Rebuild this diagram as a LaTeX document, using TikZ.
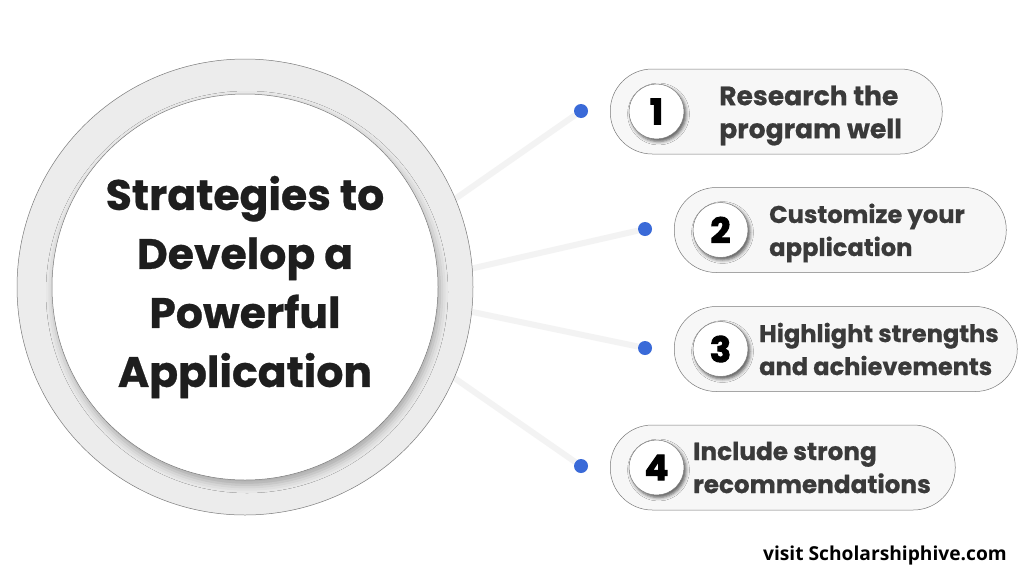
\documentclass[tikz,border=0pt]{standalone}
\usepackage{fontspec}
\setmainfont{Poppins}[BoldFeatures={FakeBold=0.6}]
\newfontfamily\numFont{Poppins}[BoldFeatures={FakeBold=3}]
\newfontfamily\siteFont{Open Sans}
\usetikzlibrary{shadows.blur}
\definecolor{cBlue}{HTML}{3A6AD8}
\definecolor{cRing}{HTML}{ECECEC}
\definecolor{cPill}{HTML}{F7F7F7}
\definecolor{cEdge}{HTML}{7A7A7A}
\definecolor{cLine}{HTML}{F3F3F3}
\definecolor{cText}{HTML}{3A3A3A}
\definecolor{cTitle}{HTML}{1E1E1E}

\begin{document}
\begin{tikzpicture}[x=1pt,y=-1pt,
  pill/.style={draw=cEdge,line width=0.5pt,fill=cPill,rounded corners=42pt,minimum height=85pt,inner sep=0pt,anchor=west},
  num/.style={circle,draw=cEdge,line width=0.5pt,fill=white,minimum size=55pt,inner sep=0pt,
    font=\numFont\bfseries\fontsize{35}{35}\selectfont,
    blur shadow={shadow xshift=2pt,shadow yshift=-2.5pt,shadow blur radius=3.5pt,shadow opacity=65}},
  dot/.style={circle,fill=cBlue,minimum size=14pt,inner sep=0pt},
  lbl/.style={anchor=west,align=left,text=cText,inner sep=0pt},
  link/.style={cLine,line width=6pt}]
  \useasboundingbox[fill=white] (0,0) rectangle (1024,576);
  % dots and their links into the ring
  \foreach \i/\dx/\dy/\ex/\ey in {1/581/111/432/215,2/645/229/439/276,3/645/348/439/305,4/581/466/427/359}{
    \node[dot] (d\i) at (\dx,\dy) {};
    \coordinate (e\i) at (\ex,\ey);
    \draw[link] (e\i) -- (d\i);}
  % central ring
  \node[circle,fill=cRing,draw=cEdge,line width=0.5pt,minimum size=456pt] (ring) at (245,287) {};
  \node[circle,fill=white,draw=cEdge,line width=0.5pt,minimum size=386pt,
    blur shadow={shadow xshift=2pt,shadow yshift=-5pt,shadow blur radius=8pt,shadow opacity=30}] (core) at (245,287) {};
  \node[align=center,text=cTitle,font=\bfseries\fontsize{42.5}{59}\selectfont] (title) at (245,287)
    {Strategies to\\Develop a\\Powerful\\Application};
  % steps
  \foreach \i/\x/\y/\w/\tx/\fs/\ys/\txt in {1/610/111.5/332/109/26.6/-4/{Research the\\program well},
      2/674/230/332/95/24.2/-3/{Customize your\\application},
      3/674/349/343/85/24.1/0/{Highlight strengths\\and achievements},
      4/610/467.5/345/83/24.7/0/{Include strong\\recommendations}}{
    \node[pill,minimum width=\w pt] (p\i) at (\x,\y) {};
    \node[num] (n\i) at ([xshift=46.5pt]p\i.west) {\i};
    \node[lbl,font=\bfseries\fontsize{\fs}{33}\selectfont] (t\i) at ([xshift=\tx pt,yshift=\ys pt]p\i.west) {\txt};}
  \node[anchor=base east,inner sep=0pt,font=\siteFont\bfseries\fontsize{19.2}{19.2}\selectfont] (site) at (1007,560)
    {visit Scholarshiphive.com};
\end{tikzpicture}
\end{document}
